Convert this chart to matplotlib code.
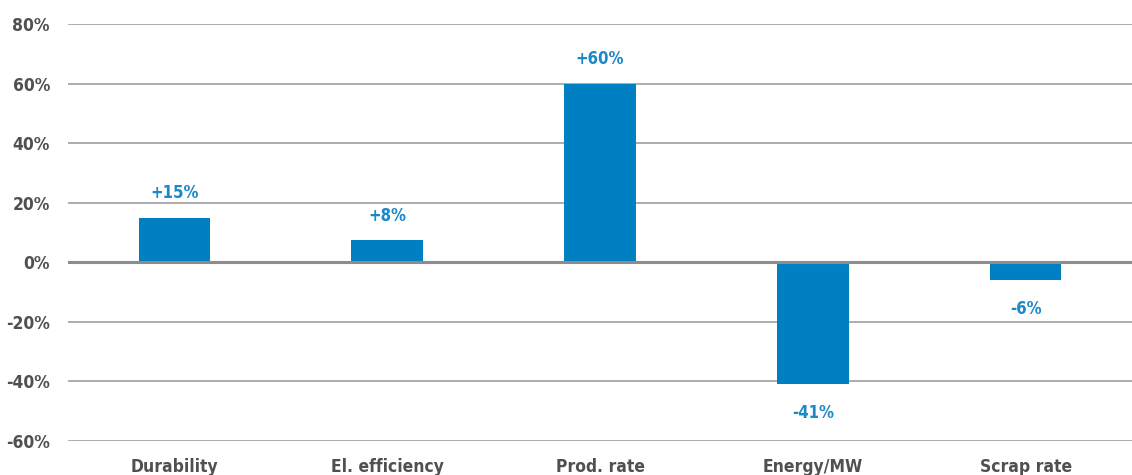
import matplotlib
matplotlib.use("Agg")
import matplotlib.pyplot as plt
from matplotlib.ticker import FuncFormatter

categories = ["Durability", "El. efficiency", "Prod. rate", "Energy/MW", "Scrap rate"]
values = [15, 7.5, 60, -41, -6]
value_labels = ["+15%", "+8%", "+60%", "-41%", "-6%"]
yticks = [-60, -40, -20, 0, 20, 40, 60, 80]

plt.rcParams['font.family'] = ['DejaVu Sans']
plt.rcParams['font.stretch'] = 'condensed'

W, H = 1132, 475
fig = plt.figure(figsize=(W / 100, H / 100), dpi=100)
ax = fig.add_axes([68 / W, (475 - 441) / H, (W - 68) / W, (441 - 24) / H])

bar_color = "#0080c2"
label_color = "#1a88c9"
tick_color = "#505050"

x = list(range(len(categories)))
ax.bar(x, values, width=0.337, color=bar_color, zorder=3)
ax.set_xlim(-0.5, len(categories) - 0.5)
ax.set_ylim(-60, 80)
ax.set_yticks(yticks)
ax.yaxis.set_major_formatter(FuncFormatter(lambda v, p: f"{int(v)}%"))
ax.set_xticks(x)
ax.set_xticklabels(categories)

for t in ax.get_yticklabels():
    t.set_fontsize(12.5)
    t.set_fontweight("bold")
    t.set_fontstretch("condensed")
    t.set_color(tick_color)
for t in ax.get_xticklabels():
    t.set_fontsize(12.5)
    t.set_fontweight("bold")
    t.set_fontstretch("condensed")
    t.set_color(tick_color)
ax.tick_params(axis="y", length=0, pad=13)
ax.tick_params(axis="x", length=0, pad=12)

for yv in yticks:
    if yv == 0:
        continue
    ax.axhline(yv, color="#a6a6a6", linewidth=1.3, zorder=1)
ax.axhline(0, color="#8c8c8c", linewidth=2.2, zorder=4)

for s in ax.spines.values():
    s.set_visible(False)

for xi, v, lab in zip(x, values, value_labels):
    if v >= 0:
        ax.annotate(lab, (xi, v), xytext=(0, 11), textcoords="offset points",
                    ha="center", va="bottom", color=label_color,
                    fontsize=12, fontweight="bold", fontstretch="condensed")
    else:
        ax.annotate(lab, (xi, v), xytext=(0, -14), textcoords="offset points",
                    ha="center", va="top", color=label_color,
                    fontsize=12, fontweight="bold", fontstretch="condensed")

fig.savefig("out.png", dpi=100)
